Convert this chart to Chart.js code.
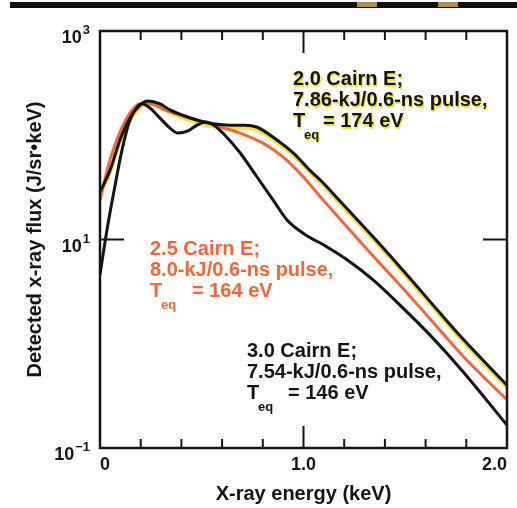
<!DOCTYPE html>
<html>
<head>
<meta charset="utf-8">
<script src="https://cdn.jsdelivr.net/npm/chart.js@4"></script>
<style>
html, body { margin: 0; padding: 0; background: #fff; }
#wrap { width: 517px; height: 508px; position: relative; }
</style>
</head>
<body>
<div id="wrap"><canvas id="myChart"></canvas></div>
<script>
/* Spectra: detected x-ray flux vs photon energy */

const energy20 = [0, 0.049, 0.098, 0.147, 0.197, 0.236, 0.295, 0.344, 0.418, 0.491, 0.565, 0.639, 0.713, 0.77, 0.87, 0.948, 1.032, 1.096, 1.179, 1.243, 1.342, 1.509, 1.671, 1.784, 2.0]
const flux20 = [28.6, 46, 90, 146, 195, 213, 200, 175, 153, 137, 128, 125, 125, 120, 90, 68, 46, 35, 23.4, 17.2, 10.6, 4.57, 1.97, 1.11, 0.40]

const energy25 = [0, 0.049, 0.098, 0.147, 0.197, 0.246, 0.319, 0.418, 0.516, 0.59, 0.688, 0.801, 0.899, 0.998, 1.096, 1.179, 1.263, 1.342, 1.509, 1.622, 1.784, 2.0]
const flux25 = [24, 58, 107, 163, 200, 200, 175, 150, 134, 120, 105, 84, 62, 40, 24, 15.7, 10.3, 6.95, 3.07, 1.73, 0.76, 0.29]

const energy30 = [0, 0.034, 0.074, 0.108, 0.147, 0.187, 0.206, 0.246, 0.295, 0.344, 0.383, 0.432, 0.477, 0.516, 0.565, 0.614, 0.688, 0.771, 0.85, 0.919, 0.998, 1.115, 1.214, 1.342, 1.474, 1.622, 1.784, 2.0]
const flux30 = [4.6, 12.3, 33, 72, 140, 191, 200, 182, 146, 117, 105, 110, 125, 134, 123, 100, 68, 40, 24, 15.4, 11.5, 8.5, 6.4, 4.1, 2.35, 1.21, 0.54, 0.166]

const xTicks = [0, 0.2, 0.4, 0.6, 0.8, 1.0, 1.2, 1.4, 1.6, 1.8, 2.0]
const xLabels = { 0: '0', 1: '1.0', 2: '2.0' }
const yTicks = [0.1, 10, 1000]
const yExponents = ['\u22121', '1', '3']

const ink = '#141414'
const orange = '#f2663a'
const yellow = '#f3e23a'
const fontFamily = '"Liberation Sans", Arial, sans-serif'

const pts = (xs, ys) => xs.map((x, i) => ({ x, y: ys[i] }))

const lineStyle = { fill: false, pointRadius: 0, cubicInterpolationMode: 'monotone' }

// notes next to each curve
const notes = [
    { x: 293, y: 85, color: ink, halo: yellow, lines: ['2.0 Cairn E;', '7.86-kJ/0.6-ns pulse,'], teq: '= 174 eV', eqX: 323 },
    { x: 150, y: 255, color: orange, halo: null, lines: ['2.5 Cairn E;', '8.0-kJ/0.6-ns pulse,'], teq: '= 164 eV', eqX: 192 },
    { x: 247, y: 357, color: ink, halo: null, lines: ['3.0 Cairn E;', '7.54-kJ/0.6-ns pulse,'], teq: '= 146 eV', eqX: 288 },
]

function text(ctx, str, x, y, color, halo) {
    if (halo) {
        ctx.fillStyle = halo
        ctx.fillText(str, x + 1, y + 1.5)
    }
    ctx.fillStyle = color
    ctx.fillText(str, x, y)
}

const framePlugin = {
    id: 'frame',
    beforeDraw(chart) {
        const ctx = chart.ctx
        // printed rule along the top edge
        ctx.save()
        ctx.fillStyle = '#111'
        ctx.fillRect(10, 2, 507, 6)
        ctx.fillStyle = '#b08a5a'
        ctx.fillRect(357, 2, 20, 5)
        ctx.fillRect(438, 2, 20, 5)
        ctx.restore()
    },
    beforeDatasetDraw(chart, args) {
        const ds = chart.data.datasets[args.index]
        if (ds.shiftY) {
            chart.ctx.save()
            chart.ctx.translate(0, ds.shiftY)
        }
    },
    afterDatasetDraw(chart, args) {
        if (chart.data.datasets[args.index].shiftY) chart.ctx.restore()
    },
    afterDraw(chart) {
        const { ctx, chartArea: a, scales: { x, y } } = chart
        ctx.save()
        ctx.strokeStyle = ink
        ctx.lineWidth = 2.5
        ctx.strokeRect(a.left, a.top, a.right - a.left, a.bottom - a.top)

        // inward tick marks
        ctx.lineWidth = 2
        ctx.beginPath()
        xTicks.slice(1, -1).forEach((v) => {
            const px = x.getPixelForValue(v)
            const len = v === 1 ? 22 : 9
            ctx.moveTo(px, a.top)
            ctx.lineTo(px, a.top + len)
            ctx.moveTo(px, a.bottom)
            ctx.lineTo(px, a.bottom - len)
        })
        const py = y.getPixelForValue(10)
        ctx.moveTo(a.left, py)
        ctx.lineTo(a.left + 24, py)
        ctx.moveTo(a.right, py)
        ctx.lineTo(a.right - 24, py)
        ctx.stroke()

        // decade labels 10^n
        ctx.fillStyle = ink
        ctx.textBaseline = 'alphabetic'
        ctx.textAlign = 'left'
        yTicks.forEach((v, i) => {
            const py = y.getPixelForValue(v)
            const exp = yExponents[i]
            ctx.font = 'bold 13px ' + fontFamily
            const ew = ctx.measureText(exp).width
            ctx.font = 'bold 18px ' + fontFamily
            const bw = ctx.measureText('10').width
            const x0 = a.left - 11 - ew - bw
            ctx.fillText('10', x0, py + 12)
            ctx.font = 'bold 13px ' + fontFamily
            ctx.fillText(exp, x0 + bw + 1, py + 3)
        })

        // curve notes
        ctx.font = 'bold 20px ' + fontFamily
        notes.forEach((n) => {
            n.lines.forEach((s, i) => text(ctx, s, n.x, n.y + i * 21, n.color, n.halo))
            const ty = n.y + 42
            text(ctx, 'T', n.x, ty, n.color, n.halo)
            ctx.font = 'bold 13px ' + fontFamily
            text(ctx, 'eq', n.x + 11, ty + 12, n.color, n.halo)
            ctx.font = 'bold 20px ' + fontFamily
            text(ctx, n.teq, n.eqX, ty, n.color, n.halo)
        })
        ctx.restore()
    }
}

const ctx = document.getElementById('myChart')
new Chart(ctx, {
    type: 'line',
    data: {
        datasets: [
            { ...lineStyle, label: '2.0 Cairn E', data: pts(energy20, flux20), borderColor: ink, borderWidth: 3 },
            { ...lineStyle, label: '3.0 Cairn E', data: pts(energy30, flux30), borderColor: ink, borderWidth: 3 },
            { ...lineStyle, label: '2.5 Cairn E', data: pts(energy25, flux25), borderColor: orange, borderWidth: 3 },
            { ...lineStyle, label: '2.0 Cairn E (print)', data: pts(energy20, flux20), borderColor: yellow, borderWidth: 3, shiftY: 3 },
        ]
    },
    options: {
        responsive: true,
        maintainAspectRatio: false,
        animation: false,
        layout: { padding: { top: 31, right: 10, left: 0, bottom: 0 } },
        scales: {
            x: {
                type: 'linear',
                min: 0,
                max: 2.0,
                afterFit: (scale) => { scale.height = 60 },
                afterBuildTicks: (scale) => { scale.ticks = xTicks.map((value) => ({ value })) },
                grid: { display: false, drawTicks: false },
                border: { display: false },
                ticks: {
                    padding: 6,
                    align: 'inner',
                    maxRotation: 0,
                    autoSkip: false,
                    color: ink,
                    font: { family: fontFamily, weight: 'bold', size: 18 },
                    callback: (v) => xLabels[v] ?? ''
                },
                title: {
                    display: true,
                    text: 'X-ray energy (keV)',
                    color: ink,
                    padding: { top: 0, bottom: 2 },
                    font: { family: fontFamily, weight: 'bold', size: 20 }
                }
            },
            y: {
                type: 'logarithmic',
                min: 0.1,
                max: 1000,
                afterFit: (scale) => { scale.width = 100 },
                grid: { display: false, drawTicks: false },
                border: { display: false },
                ticks: { display: false },
                title: {
                    display: true,
                    text: 'Detected x-ray flux (J/sr\u2022keV)',
                    color: ink,
                    padding: { top: 23, bottom: 0 },
                    font: { family: fontFamily, weight: 'bold', size: 20 }
                }
            }
        },
        plugins: {
            legend: { display: false },
            tooltip: { enabled: false }
        }
    },
    plugins: [framePlugin]
});
</script>
</body>
</html>
